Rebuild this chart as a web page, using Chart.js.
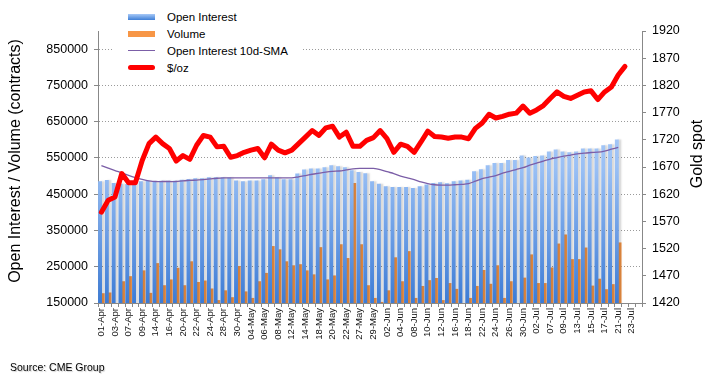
<!DOCTYPE html>
<html>
<head>
<meta charset="utf-8">
<script src="https://cdn.jsdelivr.net/npm/chart.js@4.4.0/dist/chart.umd.min.js"></script>
<style>
  body { margin: 0; background: #fff; }
  #wrap { position: relative; width: 716px; height: 387px; font-family: "Liberation Sans", Arial, sans-serif; }
  #legend { position: absolute; left: 112px; top: 8px; width: 190px; background: #fff; font-size: 11.5px; color: #000; }
  #legend .row { height: 17px; display: flex; align-items: center; }
  #legend .sw { width: 27px; margin-left: 16px; margin-right: 12px; }
  .sw.oi { height: 6px; background: linear-gradient(#a7c9f7, #3f7fd6); }
  .sw.vol { height: 6px; background: #f79646; }
  .sw.sma { height: 1.3px; background: #7b5ea7; }
  .sw.gold { height: 5px; background: #ff0000; border-radius: 3px; }
  #source { position: absolute; left: 10px; top: 361px; font-size: 10.5px; color: #000; text-shadow: 1px 1px 1px rgba(0,0,0,0.2); }
</style>
</head>
<body>
<div id="wrap">
  <canvas id="oiChart" width="716" height="387"></canvas>
  <div id="legend">
    <div class="row"><span class="sw oi"></span><span>Open Interest</span></div>
    <div class="row"><span class="sw vol"></span><span>Volume</span></div>
    <div class="row"><span class="sw sma"></span><span>Open Interest 10d-SMA</span></div>
    <div class="row"><span class="sw gold"></span><span>$/oz</span></div>
  </div>
  <div id="source">Source: CME Group</div>
</div>
<script>
// trading days, Apr - Jul
const dateLabels = ['01-Apr','02-Apr','03-Apr','06-Apr','07-Apr','08-Apr','09-Apr','13-Apr','14-Apr','15-Apr',
    '16-Apr','17-Apr','20-Apr','21-Apr','22-Apr','23-Apr','24-Apr','27-Apr','28-Apr','29-Apr',
    '30-Apr','01-May','04-May','05-May','06-May','07-May','08-May','11-May','12-May','13-May',
    '14-May','15-May','18-May','19-May','20-May','21-May','22-May','26-May','27-May','28-May',
    '29-May','01-Jun','02-Jun','03-Jun','04-Jun','05-Jun','08-Jun','09-Jun','10-Jun','11-Jun',
    '12-Jun','15-Jun','16-Jun','17-Jun','18-Jun','19-Jun','22-Jun','23-Jun','24-Jun','25-Jun',
    '26-Jun','29-Jun','30-Jun','01-Jul','02-Jul','06-Jul','07-Jul','08-Jul','09-Jul','10-Jul',
    '13-Jul','14-Jul','15-Jul','16-Jul','17-Jul','20-Jul','21-Jul','22-Jul','23-Jul','24-Jul'];

const openInterest = [486000,489000,481000,479000,478000,480000,486000,487000,484000,487000,
    487000,487000,490000,492000,494000,494000,497000,497000,497000,496000,
    488000,486000,488000,488000,491000,502000,497000,491000,491000,507000,
    518000,521000,521000,524000,530000,527000,524000,516000,511000,508000,
    486000,479000,472000,470000,470000,470000,467000,472000,477000,481000,
    483000,480000,486000,488000,490000,513000,519000,530000,536000,536000,
    544000,544000,557000,551000,555000,557000,568000,573000,568000,566000,
    568000,576000,576000,576000,585000,588000,601000];

const volume = [177000,179000,145000,210000,224000,145000,240000,178000,260000,199000,
    215000,247000,199000,265000,208000,212000,190000,158000,185000,166000,
    252000,182000,164000,210000,233000,307000,298000,265000,254000,257000,
    240000,229000,304000,215000,226000,312000,274000,481000,312000,199000,
    164000,153000,185000,276000,210000,293000,164000,197000,213000,219000,
    158000,205000,189000,145000,164000,197000,241000,203000,254000,164000,
    210000,145000,220000,284000,205000,205000,248000,314000,339000,271000,
    271000,303000,198000,217000,188000,202000,317000];

const oiSma = [529000,522000,515000,509000,502000,496000,491000,487000,485000,485000,
    485000,485000,487000,488000,489000,490000,492000,494000,495000,495000,
    495000,495000,495000,495000,495000,495000,495000,495000,495000,498000,
    501000,505000,508000,511000,513000,514000,517000,520000,521000,521000,
    521000,518000,512000,507000,500000,495000,490000,484000,479000,476000,
    475000,475000,476000,477000,479000,486000,493000,497000,501000,508000,
    513000,518000,523000,530000,536000,541000,547000,551000,555000,558000,
    561000,563000,565000,566000,569000,574000,579000];

const goldSpot = [1587,1609,1615,1658,1641,1641,1682,1713,1725,1713,
    1704,1681,1691,1684,1710,1728,1725,1707,1708,1688,
    1691,1697,1701,1704,1687,1712,1701,1696,1701,1713,
    1725,1737,1728,1742,1745,1725,1734,1708,1708,1719,
    1724,1737,1722,1697,1712,1708,1697,1716,1736,1726,
    1725,1723,1725,1725,1722,1741,1751,1767,1760,1763,
    1767,1769,1782,1769,1775,1783,1796,1808,1800,1796,
    1802,1808,1810,1794,1808,1817,1839,1855];

const leftTicks = [150000,250000,350000,450000,550000,650000,750000,850000];
const goldTicks = [1420,1470,1520,1570,1620,1670,1720,1770,1820,1870,1920];

const FONT = '"Liberation Sans", Arial, sans-serif';

function blueGradient(context) {
    const area = context.chart.chartArea;
    if (!area) return '#7aa8ea';
    const g = context.chart.ctx.createLinearGradient(0, area.top, 0, area.bottom);
    g.addColorStop(0, '#c4dbfc');
    g.addColorStop(0.5, '#9ac0f5');
    g.addColorStop(1, '#3c7bd5');
    return g;
}

// grey shadow next to the open interest bars
const barShadow = {
    id: 'barShadow',
    beforeDatasetDraw(chart, args) {
        if (args.index !== 2) return;
        const ctx = chart.ctx;
        ctx.save();
        ctx.shadowColor = 'rgba(0,0,0,0.15)';
        ctx.shadowOffsetX = 2.5;
        ctx.shadowBlur = 1.5;
    },
    afterDatasetDraw(chart, args) {
        if (args.index !== 2) return;
        chart.ctx.restore();
    }
};

// rotated axis titles (both read bottom to top)
const axisTitles = {
    id: 'axisTitles',
    afterDraw(chart) {
        const ctx = chart.ctx;
        ctx.save();
        ctx.fillStyle = '#000';
        ctx.font = '16px ' + FONT;
        ctx.textAlign = 'center';
        ctx.textBaseline = 'middle';
        ctx.translate(16, 161);
        ctx.rotate(-Math.PI / 2);
        ctx.fillText('Open Interest / Volume (contracts)', 0, 0);
        ctx.restore();
        ctx.save();
        ctx.fillStyle = '#000';
        ctx.font = '16px ' + FONT;
        ctx.textAlign = 'center';
        ctx.textBaseline = 'middle';
        ctx.translate(698, 154);
        ctx.rotate(-Math.PI / 2);
        ctx.fillText('Gold spot', 0, 0);
        ctx.restore();
    }
};

const ctx = document.getElementById('oiChart').getContext('2d');
const oiChart = new Chart(ctx, {
    type: 'bar',
    data: {
        labels: dateLabels,
        datasets: [
            {
                type: 'line',
                label: '$/oz',
                data: goldSpot,
                yAxisID: 'y1',
                borderColor: '#ff0000',
                borderWidth: 5,
                borderCapStyle: 'round',
                borderJoinStyle: 'round',
                pointRadius: 0,
                tension: 0,
                order: 0
            },
            {
                type: 'line',
                label: 'Open Interest 10d-SMA',
                data: oiSma,
                yAxisID: 'y',
                borderColor: '#7b5ea7',
                borderWidth: 1.3,
                pointRadius: 0,
                tension: 0.3,
                order: 1
            },
            {
                label: 'Open Interest',
                data: openInterest,
                yAxisID: 'y',
                backgroundColor: blueGradient,
                categoryPercentage: 0.8,
                barPercentage: 1.45,
                order: 2
            },
            {
                label: 'Volume',
                data: volume,
                yAxisID: 'y',
                backgroundColor: '#f79646',
                categoryPercentage: 0.8,
                barPercentage: 1.45,
                order: 3
            }
        ]
    },
    options: {
        responsive: false,
        animation: false,
        devicePixelRatio: 1,
        layout: { padding: { top: 31, left: 0, right: 0, bottom: 0 } },
        plugins: {
            legend: { display: false },
            tooltip: { enabled: false }
        },
        scales: {
            x: {
                offset: true,
                afterFit(scale) { scale.height = 84; },
                grid: { drawOnChartArea: false, tickLength: 4, color: '#888', offset: true },
                border: { display: true, color: '#888' },
                ticks: {
                    autoSkip: false,
                    minRotation: 90,
                    maxRotation: 90,
                    padding: 1,
                    color: '#111',
                    font: { family: FONT, size: 9.5 },
                    callback: (value, index) => index % 2 === 0 ? dateLabels[index] : ''
                }
            },
            y: {
                position: 'left',
                min: 150000,
                max: 900000,
                afterFit(scale) { scale.width = 98; },
                afterBuildTicks(scale) { scale.ticks = leftTicks.map(v => ({ value: v })); },
                grid: { color: '#9a9a9a', tickLength: 4, tickColor: '#888', tickBorderDash: [] },
                border: { display: true, color: '#888', dash: [1, 2] },
                ticks: {
                    color: '#000',
                    padding: 6,
                    font: { family: FONT, size: 12.5 },
                    callback: v => String(v)
                }
            },
            y1: {
                position: 'right',
                min: 1420,
                max: 1920,
                afterFit(scale) { scale.width = 74; },
                afterBuildTicks(scale) { scale.ticks = goldTicks.map(v => ({ value: v })); },
                grid: { drawOnChartArea: false, tickLength: 4, color: '#888' },
                border: { display: true, color: '#888' },
                ticks: {
                    color: '#000',
                    padding: 6,
                    font: { family: FONT, size: 12.5 },
                    callback: v => String(v)
                }
            }
        }
    },
    plugins: [barShadow, axisTitles]
});
</script>
</body>
</html>
